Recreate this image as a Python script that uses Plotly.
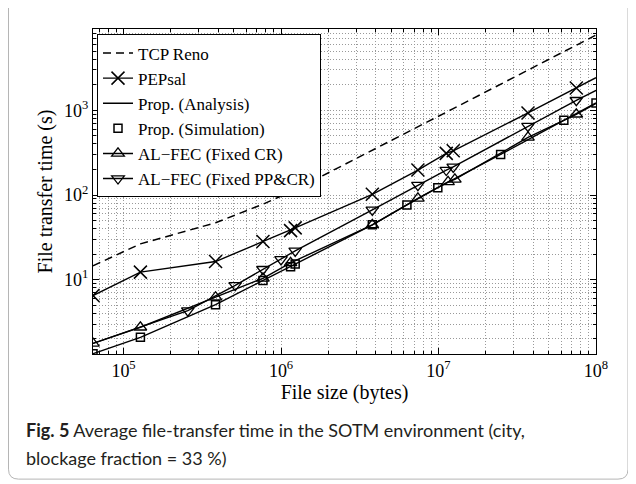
import plotly.graph_objects as go
import math

# ---------------- data ----------------
tcp_x = [6.4e4, 1.28e5, 3.84e5, 7.68e5, 1.23e6, 3.8e6, 7.4e6, 1.24e7, 3.7e7, 1e8]
tcp_y = [14.6, 26.5, 47, 78, 115, 335, 641, 1045, 2980, 7710]

pep_x = [6.4e4, 1.28e5, 3.84e5, 7.68e5, 1.15e6, 1.23e6, 3.8e6, 7.4e6, 1.12e7, 1.24e7, 3.7e7, 7.5e7, 1e8]
pep_y = [6.5, 12.3, 16.4, 28.2, 38, 40.9, 102, 197, 310, 332, 929, 1828, 2427]
pep_mk = [1, 1, 1, 1, 1, 1, 1, 1, 1, 1, 1, 1, 0]

ana_x = [6.4e4, 1.28e5, 3.84e5, 7.68e5, 1.15e6, 1.23e6, 3.8e6, 6.3e6, 9.9e6, 2.48e7, 6.25e7, 1e8]
ana_y = [1.34, 2.09, 5.08, 9.8, 14.2, 15.3, 44.4, 76.3, 122, 301, 762, 1219]

sim_x = [6.4e4, 1.28e5, 3.84e5, 7.68e5, 1.15e6, 1.23e6, 3.8e6, 6.3e6, 9.9e6, 2.48e7, 6.25e7, 1e8]
sim_y = [1.34, 2.09, 5.08, 9.8, 14.2, 15.3, 44.4, 76.3, 122, 301, 762, 1219]

cr_x = [6.4e4, 1.28e5, 3.84e5, 7.68e5, 1.15e6, 3.8e6, 7.4e6, 1.15e7, 1.27e7, 3.7e7, 7.5e7, 1e8]
cr_y = [1.77, 2.75, 6.22, 10.4, 15.8, 44.4, 91.4, 143, 153, 478, 897, 1200]
cr_mk = [1, 1, 1, 1, 1, 1, 1, 1, 1, 1, 1, 0]

pp_x = [6.4e4, 1.28e5, 2.56e5, 5.12e5, 7.68e5, 1.0e6, 1.23e6, 3.8e6, 7.4e6, 1.12e7, 1.24e7, 3.7e7, 7.5e7, 1e8]
pp_y = [1.77, 2.75, 4.32, 8.6, 13.3, 17.4, 21.9, 66.6, 131, 197, 215, 649, 1312, 1718]
pp_mk = [0, 0, 1, 1, 1, 1, 1, 1, 1, 1, 1, 1, 1, 0]

x_tickvals = [1e5, 1e6, 1e7, 1e8]
x_ticktext = ["10<sup>5</sup>", "10<sup>6</sup>", "10<sup>7</sup>", "10<sup>8</sup>"]
y_tickvals = [1e1, 1e2, 1e3]
y_ticktext = ["10<sup>1</sup>", "10<sup>2</sup>", "10<sup>3</sup>"]

x_title = "File size (bytes)"
y_title = "File transfer time (s)"
caption1 = "<b>Fig. 5</b> Average file-transfer time in the SOTM environment (city,"
caption2 = "blockage fraction = 33 %)"

# ---------------- figure ----------------
SERIF = "Liberation Serif, Times New Roman, serif"
LW = 1.4
DASH = "8px,5px"
fig = go.Figure()


def pick(xs, ys, mk):
    return [a for a, m in zip(xs, mk) if m], [b for b, m in zip(ys, mk) if m]


# lines
fig.add_trace(go.Scatter(x=tcp_x, y=tcp_y, mode="lines", showlegend=False,
                         line=dict(color="black", width=1.5, dash=DASH)))
fig.add_trace(go.Scatter(x=pep_x, y=pep_y, mode="lines", showlegend=False,
                         line=dict(color="black", width=LW)))
fig.add_trace(go.Scatter(x=ana_x, y=ana_y, mode="lines", showlegend=False,
                         line=dict(color="black", width=LW)))
fig.add_trace(go.Scatter(x=cr_x, y=cr_y, mode="lines", showlegend=False,
                         line=dict(color="black", width=LW)))
fig.add_trace(go.Scatter(x=pp_x, y=pp_y, mode="lines", showlegend=False,
                         line=dict(color="black", width=LW)))

# markers
X_MK = dict(symbol="x-thin-open", size=13, color="black", line=dict(color="black", width=1.5))
SQ_MK = dict(symbol="square-open", size=8, color="black", line=dict(color="black", width=1.5))
TU_MK = dict(symbol="triangle-up-open", size=11, color="black", line=dict(color="black", width=1.3))
TD_MK = dict(symbol="triangle-down-open", size=11, color="black", line=dict(color="black", width=1.3))

mx, my = pick(pep_x, pep_y, pep_mk)
fig.add_trace(go.Scatter(x=mx, y=my, mode="markers", showlegend=False, marker=X_MK))
fig.add_trace(go.Scatter(x=sim_x, y=sim_y, mode="markers", showlegend=False, marker=SQ_MK))
mx, my = pick(cr_x, cr_y, cr_mk)
fig.add_trace(go.Scatter(x=mx, y=my, mode="markers", showlegend=False, marker=TU_MK))
mx, my = pick(pp_x, pp_y, pp_mk)
fig.add_trace(go.Scatter(x=mx, y=my, mode="markers", showlegend=False, marker=TD_MK))

# legend entries
fig.add_trace(go.Scatter(x=[None], y=[None], mode="lines", name="TCP Reno",
                         line=dict(color="black", width=1.5, dash=DASH)))
fig.add_trace(go.Scatter(x=[None], y=[None], mode="lines+markers", name="PEPsal",
                         line=dict(color="black", width=LW), marker=X_MK))
fig.add_trace(go.Scatter(x=[None], y=[None], mode="lines", name="Prop. (Analysis)",
                         line=dict(color="black", width=LW)))
fig.add_trace(go.Scatter(x=[None], y=[None], mode="markers", name="Prop. (Simulation)",
                         marker=SQ_MK))
fig.add_trace(go.Scatter(x=[None], y=[None], mode="lines+markers", name="AL\u2212FEC (Fixed CR)",
                         line=dict(color="black", width=LW), marker=TU_MK))
fig.add_trace(go.Scatter(x=[None], y=[None], mode="lines+markers", name="AL\u2212FEC (Fixed PP&CR)",
                         line=dict(color="black", width=LW), marker=TD_MK))

x_minor = [m * 10 ** e for e in range(4, 8) for m in range(2, 10) if m * 10 ** e >= 6.4e4]
y_minor = [m * 10 ** e for e in range(0, 4) for m in range(2, 10)]

GRIDC = "#999999"
GRIDD = "1px,2px"
axis_common = dict(type="log", showline=True, linecolor="black", linewidth=1,
                   mirror="allticks", ticks="inside", ticklen=6, tickcolor="black",
                   tickwidth=1, tickfont=dict(family=SERIF, size=18, color="black"),
                   zeroline=False, showgrid=True, gridcolor=GRIDC, griddash=GRIDD, gridwidth=1)
minor_common = dict(ticks="inside", ticklen=3, tickcolor="black",
                    showgrid=True, gridcolor=GRIDC, griddash=GRIDD, gridwidth=1)

fig.update_xaxes(range=[math.log10(6.4e4), 8], tickmode="array", tickvals=x_tickvals,
                 ticktext=x_ticktext,
                 title=dict(text=x_title, font=dict(family=SERIF, size=20, color="black"), standoff=4),
                 minor=dict(tickvals=x_minor, **minor_common),
                 **axis_common)
fig.update_yaxes(range=[0.1235, 3.959], tickmode="array", tickvals=y_tickvals,
                 ticktext=y_ticktext,
                 title=dict(text=y_title, font=dict(family=SERIF, size=20, color="black"), standoff=6),
                 minor=dict(tickvals=y_minor, **minor_common),
                 **axis_common)

# page offset: the HTML body has an 8px margin, so figure px = page px - 8
OFF = 8
L, T, PW, PH = 93 - OFF, 28.5 - OFF, 503, 326


def px2paper(px, py):
    # px, py given in page pixels
    return (px - OFF - L) / PW, (T + PH - (py - OFF)) / PH


# figure card border (rounded rectangle; its top edge lies above the visible page)
x0, y0 = px2paper(8.5, -12)
x1, y1 = px2paper(628, 480)
rx = 10 / PW
ry = 10 / PH
path = (f"M{x0+rx},{y0} L{x1-rx},{y0} Q{x1},{y0} {x1},{y0-ry} L{x1},{y1+ry} "
        f"Q{x1},{y1} {x1-rx},{y1} L{x0+rx},{y1} Q{x0},{y1} {x0},{y1+ry} "
        f"L{x0},{y0-ry} Q{x0},{y0} {x0+rx},{y0} Z")
fig.add_shape(type="path", path=path, xref="paper", yref="paper",
              line=dict(color="#b5b5b5", width=1), layer="below")

cx, cy1 = px2paper(24, 431)
_, cy2 = px2paper(24, 459)
CAPF = dict(family="Lato, Noto Sans, sans-serif", size=18, color="#231f20")
fig.add_annotation(text=caption1, x=cx, y=cy1, xref="paper", yref="paper",
                   xanchor="left", yanchor="middle", showarrow=False, font=CAPF)
fig.add_annotation(text=caption2, x=cx, y=cy2, xref="paper", yref="paper",
                   xanchor="left", yanchor="middle", showarrow=False, font=CAPF)

lx, ly = px2paper(97, 34)
fig.update_layout(
    width=636, height=484,
    margin=dict(l=L, r=636 - L - PW, t=T, b=484 - T - PH),
    paper_bgcolor="white", plot_bgcolor="white",
    showlegend=True,
    legend=dict(x=lx, y=ly, xanchor="left", yanchor="top", bgcolor="white",
                bordercolor="black", borderwidth=1,
                font=dict(family=SERIF, size=17, color="black"),
                tracegroupgap=0),
)

fig.write_html("out.html")
